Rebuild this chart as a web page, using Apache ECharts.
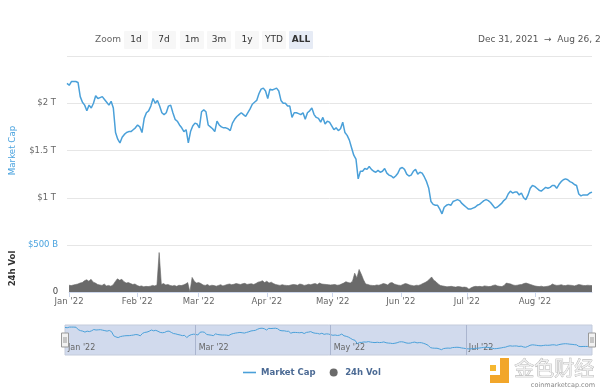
<!DOCTYPE html>
<html><head><meta charset="utf-8">
<script src="https://cdn.jsdelivr.net/npm/echarts@6/dist/echarts.min.js"></script>
<style>html,body{margin:0;padding:0;background:#fff;}#c{width:600px;height:390px;}</style>
</head><body><div id="c"></div>
<script>
// ---- data (daily, first value = 2022-01-01) ----
const startDate = [2022, 0, 1];
const marketCapT = [
 2.21,2.19,2.23,2.23,2.23,2.22,2.07,2.01,1.98,1.92,
 1.98,1.95,2.00,2.08,2.05,2.06,2.07,2.04,2.01,1.98,
 2.02,1.95,1.69,1.62,1.58,1.64,1.67,1.69,1.70,1.70,
 1.72,1.74,1.77,1.75,1.69,1.84,1.90,1.92,1.97,2.05,
 2.00,2.03,1.97,1.90,1.88,1.90,1.97,1.98,1.90,1.83,
 1.81,1.77,1.74,1.70,1.72,1.58,1.70,1.76,1.79,1.78,
 1.74,1.91,1.93,1.91,1.77,1.75,1.73,1.70,1.81,1.77,
 1.75,1.74,1.74,1.73,1.71,1.79,1.83,1.86,1.88,1.90,
 1.88,1.86,1.90,1.94,1.99,2.01,2.03,2.10,2.15,2.16,
 2.13,2.05,2.15,2.14,2.15,2.16,2.13,2.03,2.00,2.00,
 1.97,1.97,1.85,1.90,1.90,1.89,1.88,1.90,1.83,1.90,
 1.92,1.95,1.88,1.85,1.84,1.80,1.85,1.78,1.81,1.80,
 1.76,1.72,1.74,1.71,1.73,1.80,1.69,1.66,1.61,1.53,
 1.45,1.41,1.20,1.28,1.28,1.31,1.30,1.33,1.30,1.28,
 1.27,1.29,1.27,1.28,1.31,1.26,1.24,1.23,1.21,1.23,
 1.26,1.31,1.32,1.30,1.25,1.23,1.24,1.28,1.30,1.25,
 1.27,1.26,1.22,1.17,1.10,0.96,0.93,0.92,0.92,0.88,
 0.83,0.90,0.92,0.93,0.92,0.96,0.97,0.98,0.97,0.94,
 0.92,0.90,0.88,0.88,0.89,0.90,0.92,0.93,0.95,0.97,
 0.98,0.97,0.95,0.92,0.89,0.90,0.92,0.94,0.97,0.99,
 1.04,1.07,1.05,1.06,1.06,1.03,1.05,1.00,0.98,1.03,
 1.10,1.13,1.12,1.10,1.08,1.07,1.09,1.11,1.10,1.11,
 1.13,1.13,1.10,1.14,1.17,1.19,1.20,1.19,1.17,1.16,
 1.14,1.13,1.04,1.02,1.03,1.03,1.03,1.05,1.06
];
const volumeB = [
 72,68,75,80,85,95,100, 120,130,115, 135,105,95,
 80,75,70,85,65,70,62,75, 110,140,125,135, 110,95,100,90,80,85,
 70,60,65,55,60,58,62,70,65,75, 420, 80,90,75,80,70,
 65,70,60,72,68,75,85, 100,0, 155,115,95,100,90,
 75,70,80,65,72,68,62,70,78,65,72,80,
 85,78,82,90,85,80,88,92,80,85,88,80,90,
 105,110,120,100,115,95,105,90, 80,75,70,78,72,70,68,
 75,80,78,72,85,80,70,75,82,78, 85,90,80,95,85,82,80,78,
 75,78,80,72,75,85,95, 110,100,95,115,200,150,240,190,130,85,80,72,
 70,68,75,72,80,90,85,75,95,
 100,85,78,72,70,80,90,85,75,70,65,72,70,78,
 90,100,115,135,160,125,110,
 85,70,65,60,55,58,60,55,52,58,55,
 50,52,48,30,45,55,60,58,
 60,55,65,62,58,60,70,75,65,60,
 58,70,95,90,85,75,
 70,72,78,80,90,95,88,80,
 72,65,60,58,62,55,58,
 62,68,85,75,70,
 72,78,70,68,75,72,70,65,72,80,75,70,68,72,70,68
];
const monthTickDates = ['2022-01-01','2022-02-01','2022-03-01','2022-04-01','2022-05-01','2022-06-01','2022-07-01','2022-08-01'];
const monthTickLabels = ["Jan '22","Feb '22","Mar '22","Apr '22","May '22","Jun '22","Jul '22","Aug '22"];
const navTickDates = ['2022-01-01','2022-03-01','2022-05-01','2022-07-01'];
const navTickLabels = ["Jan '22","Mar '22","May '22","Jul '22"];
const zoomButtons = ['1d','7d','1m','3m','1y','YTD','ALL'];
const rangeText = 'Dec 31, 2021  \u2192  Aug 26, 2022';

// ---- build ----
const FONT = 'DejaVu Sans';
const BLUE = '#4aa0d9';
function dayTs(i){ return new Date(startDate[0], startDate[1], startDate[2] + i).getTime(); }
function parseTs(s){ const p = s.split('-').map(Number); return new Date(p[0], p[1]-1, p[2]).getTime(); }
const capData = marketCapT.map((v,i)=>[dayTs(i), v]);
const volData = volumeB.map((v,i)=>[dayTs(i), v]);
const monthTs = monthTickDates.map(parseTs);
const navTs = navTickDates.map(parseTs);
const xMin = dayTs(0), xMax = dayTs(marketCapT.length - 1);
const labelOf = (arr, labels) => v => { const i = arr.indexOf(+v); return i >= 0 ? labels[i] : ''; };

const btnX = [124,152,180,207,235,262,289];
const graphics = [
  {type:'text', left:95, top:35, style:{text:'Zoom', fill:'#666', font:'9px "DejaVu Sans"'}},
  {type:'text', left:478, top:35, style:{text:rangeText, fill:'#555', font:'9px "DejaVu Sans"'}},
  // watermark
  {type:'rect', shape:{x:490,y:365,width:6,height:6}, style:{fill:'#f5b731'}},
  {type:'rect', shape:{x:500,y:358,width:9,height:25}, style:{fill:'#f2a62a'}},
  {type:'rect', shape:{x:490,y:375,width:19,height:8}, style:{fill:'#f2a62a'}},
  {type:'text', left:514, top:358, style:{text:'金色财经', fill:'#eeeeee', stroke:'#a8a8a8', lineWidth:0.7, font:'20px "Noto Sans CJK SC"'}},
  {type:'text', right:5, top:382, style:{text:'coinmarketcap.com', fill:'#888', font:'6.5px "DejaVu Sans"'}},
  // navigator handles
  {type:'rect', shape:{x:61.5,y:333,width:7,height:14}, style:{fill:'#f2f2f2', stroke:'#999', lineWidth:1}, z:100},
  {type:'line', shape:{x1:64,y1:337,x2:64,y2:343}, style:{stroke:'#999'}, z:101},
  {type:'line', shape:{x1:66,y1:337,x2:66,y2:343}, style:{stroke:'#999'}, z:101},
  {type:'rect', shape:{x:588.5,y:333,width:7,height:14}, style:{fill:'#f2f2f2', stroke:'#999', lineWidth:1}, z:100},
  {type:'line', shape:{x1:591,y1:337,x2:591,y2:343}, style:{stroke:'#999'}, z:101},
  {type:'line', shape:{x1:593,y1:337,x2:593,y2:343}, style:{stroke:'#999'}, z:101}
];
zoomButtons.forEach((b,i)=>{
  const sel = b === 'ALL';
  graphics.push({type:'rect', shape:{x:btnX[i], y:31, width:24, height:18, r:1}, style:{fill: sel ? '#e6ebf5' : '#f7f7f7'}});
  graphics.push({type:'text', x:btnX[i]+12, y:40, style:{text:b, fill:'#333', align:'center', verticalAlign:'middle', font:(sel?'bold ':'')+'9px "DejaVu Sans"'}});
});

const chart = echarts.init(document.getElementById('c'), null, {renderer:'canvas'});
chart.setOption({
  animation:false,
  textStyle:{fontFamily:FONT},
  grid:[
    {left:65, right:8, top:56, height:189},
    {left:65, right:8, top:245, height:47},
    {left:65, right:8, top:325, height:30, show:true, backgroundColor:'rgba(102,133,194,0.3)', borderColor:'#c4cbdb', borderWidth:1}
  ],
  xAxis:[
    {type:'value', gridIndex:0, min:xMin, max:xMax, show:false},
    {type:'value', gridIndex:1, min:xMin, max:xMax,
      axisLine:{show:true, lineStyle:{color:'#ccd6eb'}},
      axisTick:{show:true, customValues:monthTs, length:5, lineStyle:{color:'#ccd6eb'}},
      axisLabel:{customValues:monthTs, formatter:labelOf(monthTs, monthTickLabels), color:'#666', fontSize:8.5, margin:5, fontFamily:FONT},
      splitLine:{show:false}},
    {type:'value', gridIndex:2, min:xMin, max:xMax,
      axisLine:{show:false}, axisTick:{show:false},
      axisLabel:{inside:true, customValues:navTs, formatter:labelOf(navTs, navTickLabels), color:'#666', fontSize:8, align:'left', padding:[0,0,0,3], margin:3, fontFamily:FONT},
      splitLine:{show:false}}
  ],
  yAxis:[
    {type:'value', gridIndex:0, min:0.5, max:2.5, interval:0.5,
      axisLine:{show:false}, axisTick:{show:false},
      axisLabel:{formatter:v=>'$'+v+' T', showMinLabel:false, showMaxLabel:false, color:'#666', fontSize:8.5, margin:11, fontFamily:FONT},
      splitLine:{lineStyle:{color:'#e6e6e6'}},
      name:'Market Cap', nameLocation:'middle', nameGap:50, nameRotate:90,
      nameTextStyle:{color:'#4aa3df', fontSize:8.7, fontFamily:FONT}},
    {type:'value', gridIndex:1, min:0, max:500, interval:500,
      axisLine:{show:false}, axisTick:{show:false},
      axisLabel:{formatter:v=> v===500 ? '$500 B' : '0', color:v=> (+v===500 ? '#4aa3df' : '#444'), fontSize:8.5, margin:11, fontFamily:FONT},
      splitLine:{lineStyle:{color:'#e6e6e6'}},
      name:'24h Vol', nameLocation:'middle', nameGap:27, nameRotate:90,
      nameTextStyle:{color:'#333', fontSize:8.5, fontWeight:'bold', fontFamily:FONT}},
    {type:'value', gridIndex:2, min:0.5, max:2.36, show:false}
  ],
  legend:{left:238, top:363, itemWidth:13, itemHeight:8, itemGap:14, selectedMode:false,
    data:[{name:'Market Cap', icon:'path://M0,0H13V1.6H0Z'}, {name:'24h Vol', icon:'circle'}],
    textStyle:{color:'#4b6a94', fontWeight:'bold', fontSize:8.5, fontFamily:FONT}},
  graphic:graphics,
  series:[
    {name:'Market Cap', type:'line', xAxisIndex:0, yAxisIndex:0, data:capData, showSymbol:false,
      color:BLUE, lineStyle:{color:BLUE, width:1.5}},
    {name:'24h Vol', type:'line', xAxisIndex:1, yAxisIndex:1, data:volData, showSymbol:false,
      color:'#6a6a6a', lineStyle:{color:'#666', width:0.6}, areaStyle:{color:'#6a6a6a', opacity:1}},
    {name:'nav', type:'line', xAxisIndex:2, yAxisIndex:2, data:capData, showSymbol:false,
      color:BLUE, lineStyle:{color:BLUE, width:1},
      markLine:{silent:true, symbol:'none', label:{show:false}, lineStyle:{color:'#aab5cf', width:1, type:'solid'},
        data:navTs.slice(1).map(t=>({xAxis:t}))}}
  ]
});
</script></body></html>
